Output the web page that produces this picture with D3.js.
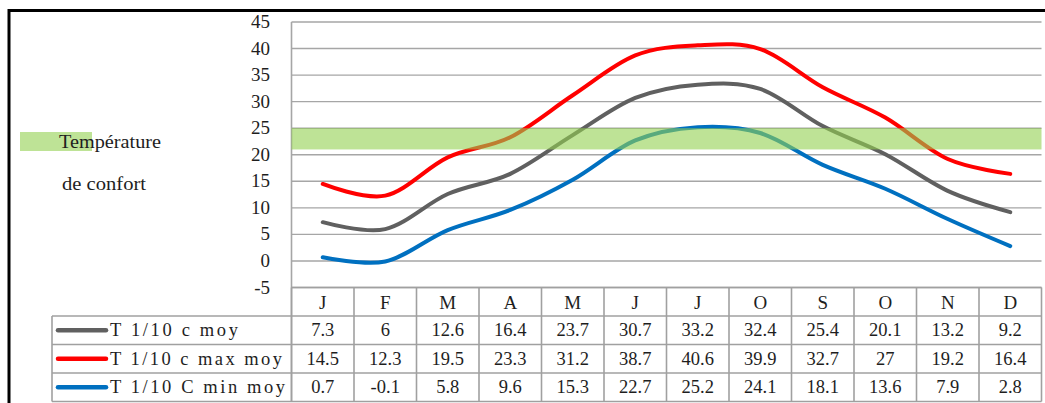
<!DOCTYPE html>
<meta charset='utf-8'>
<style type="text/css">
	body { margin: 0; background: #fff; }
	svg text { font-family: 'Liberation Serif'; }
</style>
<body>
<svg class="chart" width="1045" height="403" font-family="Liberation Serif">
	<g class="annot">
		<text x="59" y="148" font-family="Liberation Serif" font-size="19" fill="#1e1e1e" textLength="102" lengthAdjust="spacingAndGlyphs">Température</text>
		<text x="62" y="190" font-family="Liberation Serif" font-size="19" fill="#1e1e1e" textLength="84" lengthAdjust="spacingAndGlyphs">de confort</text>
	</g>
</svg>
<script src='https://cdn.jsdelivr.net/npm/d3@7/dist/d3.min.js'></script>
<script>

var months = ['J', 'F', 'M', 'A', 'M', 'J', 'J', 'O', 'S', 'O', 'N', 'D'];
var yTicks = [-5, 0, 5, 10, 15, 20, 25, 30, 35, 40, 45];
var tMoy = [7.3, 6, 12.6, 16.4, 23.7, 30.7, 33.2, 32.4, 25.4, 20.1, 13.2, 9.2];
var tMax = [14.5, 12.3, 19.5, 23.3, 31.2, 38.7, 40.6, 39.9, 32.7, 27, 19.2, 16.4];
var tMin = [0.7, -0.1, 5.8, 9.6, 15.3, 22.7, 25.2, 24.1, 18.1, 13.6, 7.9, 2.8];
var comfort = [21, 25];
var seriesNames = ['T 1/10 c moy', 'T 1/10 c max moy', 'T 1/10 C min moy'];
var seriesColors = ['#606060', '#ff0000', '#0070c0'];

var series = [tMoy, tMax, tMin];

var width = 1045, height = 403;
var plotLeft = 291.5, plotRight = 1041.5, plotTop = 22, plotBottom = 287.5;
var legendLeft = 52;
var rowH = 28.5;
var nameWidths = [128, 172, 175];

var svg = d3.select('svg.chart');

var x = d3.scaleBand()
	.domain(d3.range(months.length))
	.range([plotLeft, plotRight]);

var y = d3.scaleLinear()
	.domain([-5, 45])
	.range([plotBottom, plotTop]);

function label(sel, size){
	return sel.attr('font-family', 'Liberation Serif')
		.attr('font-size', size || 18.5)
		.attr('fill', '#1e1e1e');
}

// gridlines
svg.insert('g', '.annot')
	.selectAll('line')
	.data(yTicks)
	.enter().append('line')
	.attr('x1', plotLeft)
	.attr('x2', plotRight)
	.attr('y1', function(d){ return y(d); })
	.attr('y2', function(d){ return y(d); })
	.attr('stroke', '#a6a6a6')
	.attr('stroke-width', 1.4);

svg.append('line')
	.attr('x1', plotLeft).attr('x2', plotLeft)
	.attr('y1', plotTop).attr('y2', plotBottom + rowH * 4)
	.attr('stroke', '#a6a6a6')
	.attr('stroke-width', 1.6);

// y labels
label(svg.append('g')
	.selectAll('text')
	.data(yTicks)
	.enter().append('text'), 19)
	.attr('x', 270)
	.attr('y', function(d){ return y(d) + 6; })
	.attr('text-anchor', 'end')
	.text(function(d){ return d; });

// lines
var line = d3.line()
	.x(function(d, i){ return x(i) + x.bandwidth() / 2; })
	.y(function(d){ return y(d); })
	.curve(d3.curveCardinal.tension(0));

svg.append('g')
	.selectAll('path')
	.data(series)
	.enter().append('path')
	.attr('d', line)
	.attr('fill', 'none')
	.attr('stroke', function(d, i){ return seriesColors[i]; })
	.attr('stroke-width', 4)
	.attr('stroke-linecap', 'round');

// comfort band, over the lines
svg.append('rect')
	.attr('x', plotLeft)
	.attr('width', plotRight - plotLeft)
	.attr('y', y(comfort[1]))
	.attr('height', y(comfort[0]) - y(comfort[1]))
	.attr('fill', '#92d050')
	.attr('opacity', 0.6);

// comfort legend swatch (under the static label)
svg.insert('rect', '.annot')
	.attr('x', 20).attr('y', 132)
	.attr('width', 72).attr('height', 19)
	.attr('fill', '#92d050')
	.attr('opacity', 0.6);

// data table
var table = svg.append('g');
var gridColor = '#a0a0a0';

// horizontal lines
[0, 1, 2, 3, 4].forEach(function(r){
	table.append('line')
		.attr('x1', r === 0 ? plotLeft : legendLeft)
		.attr('x2', plotRight)
		.attr('y1', plotBottom + r * rowH)
		.attr('y2', plotBottom + r * rowH)
		.attr('stroke', gridColor)
		.attr('stroke-width', 1.6);
});

// vertical lines
d3.range(months.length + 1).forEach(function(i){
	var xx = i < months.length ? x(i) : plotRight;
	table.append('line')
		.attr('x1', xx).attr('x2', xx)
		.attr('y1', plotBottom)
		.attr('y2', plotBottom + rowH * 4)
		.attr('stroke', gridColor)
		.attr('stroke-width', 1.6);
});
table.append('line')
	.attr('x1', legendLeft).attr('x2', legendLeft)
	.attr('y1', plotBottom + rowH)
	.attr('y2', plotBottom + rowH * 4)
	.attr('stroke', gridColor)
	.attr('stroke-width', 1.6);

// month row
label(table.selectAll('text.month')
	.data(months)
	.enter().append('text'), 19)
	.attr('class', 'month')
	.attr('x', function(d, i){ return x(i) + x.bandwidth() / 2; })
	.attr('y', plotBottom + rowH / 2 + 7)
	.attr('text-anchor', 'middle')
	.text(function(d){ return d; });

// value rows
series.forEach(function(vals, r){
	var cy = plotBottom + (r + 1) * rowH + rowH / 2;
	table.append('line')
		.attr('x1', 58).attr('x2', 106)
		.attr('y1', cy).attr('y2', cy)
		.attr('stroke', seriesColors[r])
		.attr('stroke-width', 4.5)
		.attr('stroke-linecap', 'round');
	label(table.append('text'))
		.attr('x', 110).attr('y', cy + 6)
		.attr('textLength', nameWidths[r])
		.attr('lengthAdjust', 'spacing')
		.text(seriesNames[r]);
	label(table.selectAll('text.v' + r)
		.data(vals)
		.enter().append('text'))
		.attr('class', 'v' + r)
		.attr('x', function(d, i){ return x(i) + x.bandwidth() / 2; })
		.attr('y', cy + 6)
		.attr('text-anchor', 'middle')
		.text(function(d){ return d; });
});

// outer frame
svg.append('path')
	.attr('d', 'M9,' + height + 'V10.5H' + width)
	.attr('fill', 'none')
	.attr('stroke', '#000')
	.attr('stroke-width', 3);

</script>
</body>
</html>
